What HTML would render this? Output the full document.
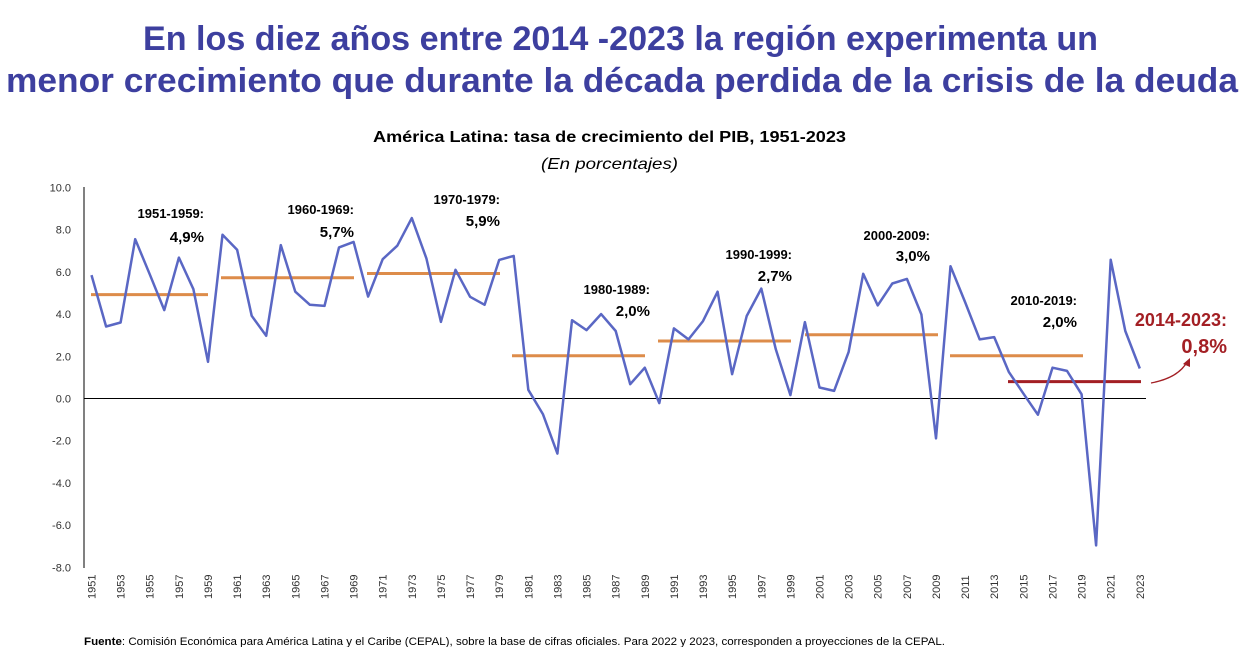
<!DOCTYPE html>
<html><head><meta charset="utf-8"><style>
html,body{margin:0;padding:0;background:#fff;}
body{width:1246px;height:647px;overflow:hidden;font-family:"Liberation Sans",sans-serif;}
</style></head><body>
<svg id="s" width="1246" height="647" xmlns="http://www.w3.org/2000/svg" font-family="Liberation Sans, sans-serif">
<text x="143" y="50" textLength="955" lengthAdjust="spacingAndGlyphs" font-size="34" font-weight="bold" fill="#3d3f9f">En los diez años entre 2014 -2023 la región experimenta un</text>
<text x="6" y="92" textLength="1232" lengthAdjust="spacingAndGlyphs" font-size="34" font-weight="bold" fill="#3d3f9f">menor crecimiento que durante la década perdida de la crisis de la deuda</text>
<text x="373" y="142" textLength="473" lengthAdjust="spacingAndGlyphs" font-size="16" font-weight="bold" fill="#000">América Latina: tasa de crecimiento del PIB, 1951-2023</text>
<text x="541" y="169" textLength="137" lengthAdjust="spacingAndGlyphs" font-size="16" font-style="italic" fill="#000">(En porcentajes)</text>
<line x1="84" y1="187" x2="84" y2="568" stroke="#000" stroke-width="1"/>
<line x1="84" y1="398.5" x2="1146" y2="398.5" stroke="#000" stroke-width="1"/>
<g id="yl" font-size="11" fill="#333" text-anchor="end"></g>
<g id="xl" font-size="11" fill="#333"></g>
<g stroke="#dd8c4a" stroke-width="3">
<line x1="91" y1="294.6" x2="208" y2="294.6"/>
<line x1="221" y1="277.7" x2="354" y2="277.7"/>
<line x1="367" y1="273.5" x2="500" y2="273.5"/>
<line x1="512" y1="355.8" x2="645" y2="355.8"/>
<line x1="658" y1="341" x2="791" y2="341"/>
<line x1="805" y1="334.7" x2="938" y2="334.7"/>
<line x1="950" y1="355.8" x2="1083" y2="355.8"/>
</g>
<line x1="1008" y1="381.6" x2="1141" y2="381.6" stroke="#a31f24" stroke-width="3"/>
<polyline id="pl" fill="none" stroke="#5a67c4" stroke-width="2.5" stroke-linejoin="round"/>
<g font-size="13" font-weight="bold" fill="#000" text-anchor="end">
<text x="204" y="218">1951-1959:</text><text x="204" y="242" font-size="15">4,9%</text>
<text x="354" y="214">1960-1969:</text><text x="354" y="237" font-size="15">5,7%</text>
<text x="500" y="204">1970-1979:</text><text x="500" y="226" font-size="15">5,9%</text>
<text x="650" y="294">1980-1989:</text><text x="650" y="316" font-size="15">2,0%</text>
<text x="792" y="259">1990-1999:</text><text x="792" y="281" font-size="15">2,7%</text>
<text x="930" y="240">2000-2009:</text><text x="930" y="261" font-size="15">3,0%</text>
<text x="1077" y="305">2010-2019:</text><text x="1077" y="327" font-size="15">2,0%</text>
<text x="1227" y="326" font-size="18" fill="#a31f24">2014-2023:</text>
<text x="1227" y="353" font-size="20" fill="#a31f24">0,8%</text>
</g>
<path d="M1151 383 Q1178 378 1187 362" fill="none" stroke="#a31f24" stroke-width="1.3"/>
<polygon points="1183,364 1190,358 1190,367" fill="#a31f24"/>
<text x="84" y="645" textLength="861" lengthAdjust="spacingAndGlyphs" font-size="11" fill="#000"><tspan font-weight="bold">Fuente</tspan>: Comisión Económica para América Latina y el Caribe (CEPAL), sobre la base de cifras oficiales. Para 2022 y 2023, corresponden a proyecciones de la CEPAL.</text>
</svg>
<script>
var v=[5.85,3.41,3.60,7.55,5.89,4.19,6.68,5.18,1.74,7.76,7.05,3.92,2.97,7.27,5.06,4.44,4.39,7.16,7.42,4.83,6.60,7.24,8.55,6.64,3.63,6.10,4.82,4.44,6.57,6.76,0.41,-0.74,-2.61,3.71,3.24,4.00,3.20,0.68,1.46,-0.22,3.32,2.80,3.67,5.06,1.15,3.91,5.21,2.33,0.16,3.62,0.52,0.36,2.20,5.91,4.41,5.45,5.67,3.98,-1.89,6.27,4.57,2.80,2.91,1.26,0.24,-0.77,1.46,1.31,0.20,-6.96,6.58,3.20,1.42];
var ns="http://www.w3.org/2000/svg",p=[];
for(var i=0;i<v.length;i++)p.push((91.5+14.56*i).toFixed(1)+","+(398.5-v[i]*21.1).toFixed(1));
document.getElementById("pl").setAttribute("points",p.join(" "));
var yl=document.getElementById("yl");
for(var k=10;k>=-8;k-=2){var t=document.createElementNS(ns,"text");t.setAttribute("x","71");t.setAttribute("y",(398.5-k*21.1+4).toFixed(1));t.textContent=k.toFixed(1);yl.appendChild(t);}
var xl=document.getElementById("xl");
for(var y=1951;y<=2023;y+=2){var x=91.5+14.56*(y-1951)+4;var t=document.createElementNS(ns,"text");t.setAttribute("transform","translate("+x.toFixed(1)+",599) rotate(-90)");t.textContent=y;xl.appendChild(t);}
</script>
</body></html>
